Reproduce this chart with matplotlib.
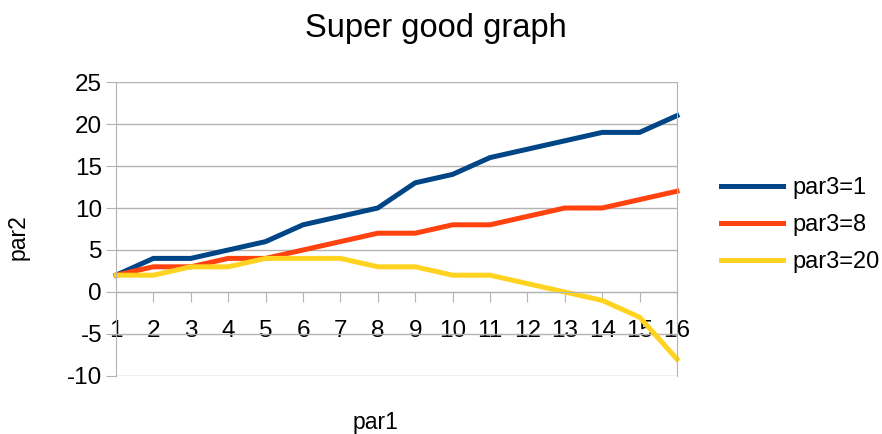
import matplotlib
matplotlib.use("Agg")
import matplotlib.pyplot as plt

plt.rcParams['font.family'] = ['Liberation Sans', 'DejaVu Sans']
plt.rcParams['axes.unicode_minus'] = False

par1 = list(range(1, 17))
par3_1 = [2, 4, 4, 5, 6, 8, 9, 10, 13, 14, 16, 17, 18, 19, 19, 21]
par3_8 = [2, 3, 3, 4, 4, 5, 6, 7, 7, 8, 8, 9, 10, 10, 11, 12]
par3_20 = [2, 2, 3, 3, 4, 4, 4, 3, 3, 2, 2, 1, 0, -1, -3, -8]
labels = ["par3=1", "par3=8", "par3=20"]
colors = ["#004586", "#ff420e", "#ffd320"]
yticks = list(range(-10, 30, 5))

grid_c = "#b3b3b3"

fig = plt.figure(figsize=(8.82, 4.34), dpi=100)
ax = fig.add_axes([116 / 882, 1 - 376 / 434, (677 - 116) / 882, (376 - 82) / 434])

for ys, lab, c in zip([par3_1, par3_8, par3_20], labels, colors):
    ax.plot(par1, ys, color=c, lw=3.6, label=lab, solid_joinstyle="round", clip_on=False)

ax.set_xlim(1, 16)
ax.set_ylim(-10, 25)
ax.set_yticks(yticks)
ax.set_xticks(par1)
ax.yaxis.grid(True, color=grid_c, lw=1)
ax.set_axisbelow(True)

ax.spines["top"].set_visible(False)
ax.spines["left"].set_color(grid_c)
ax.spines["right"].set_color(grid_c)
ax.spines["bottom"].set_position(("data", 0))
ax.spines["bottom"].set_color(grid_c)

ax.tick_params(axis="x", direction="out", length=7, color=grid_c, labelsize=17.5, pad=13)
ax.tick_params(axis="y", direction="out", length=7, color=grid_c, labelsize=17.5, pad=3)

fig.text(436 / 882, 1 - 28 / 434, "Super good graph", fontsize=23.5, ha="center", va="center")
fig.text(375 / 882, 1 - 422 / 434, "par1", fontsize=16.5, ha="center", va="center")
fig.text(18 / 882, 1 - 237 / 434, "par2", fontsize=16.5, ha="center", va="center", rotation=90)

ax.legend(loc="center left", bbox_to_anchor=(1.062, 0.514), frameon=False, fontsize=17,
          handlelength=2.6, handletextpad=0.4, labelspacing=0.64, borderaxespad=0)

fig.savefig("out.png", dpi=100)
